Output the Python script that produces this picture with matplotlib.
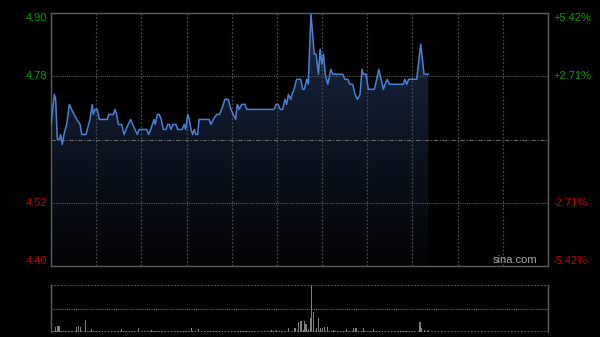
import numpy as np
import matplotlib.pyplot as plt
from matplotlib.colors import LinearSegmentedColormap

# minutes from 9:30 (lunch removed), HK session = 330 min
t = [0, 2.2, 3.1, 4.2, 5.5, 6.4, 7.5, 8.6, 10.4, 12.2, 13.7, 15.3, 17.1, 19.3,
     20.4, 23.2, 24.1, 25.9, 27.4, 28.1, 29.2, 30.7, 32.1, 37.4, 38.3, 41.4,
     42.5, 43.6, 44.7, 46.9, 48.5, 49.8, 51.3, 52.9, 54.2, 55.8, 57.3, 58.6,
     63.5, 64.9, 66.2, 68.4, 69.2, 70.6, 71.9, 73.2, 74.6, 76.4, 77.5, 78.5,
     79.7, 80.8, 83.0, 84.1, 87.0, 88.5, 89.4, 90.8, 91.8, 93.0, 94.1, 95.1,
     96.3, 97.4, 98.3, 105.1, 106.2, 107.8, 110.0, 111.8, 113.3, 115.5, 117.7,
     119.5, 121.0, 122.6, 123.7, 125.0, 126.6, 128.8, 130.0, 148.1, 149.4,
     150.9, 152.1, 153.8, 155.4, 156.5, 157.6, 159.2, 160.0, 161.4, 163.1,
     165.8, 167.1, 168.2, 169.8, 170.8, 172.6, 174.8, 176.0, 177.6, 178.7,
     179.8, 180.9, 182.1, 183.8, 185.8, 187.1, 193.7, 195.2, 197.0, 198.5,
     200.3, 201.9, 203.4, 205.2, 206.5, 207.4, 209.2, 210.7, 214.7, 216.3,
     217.6, 219.2, 220.7, 221.8, 223.3, 224.6, 233.9, 234.9, 236.2, 237.5,
     242.8, 245.5, 247.7, 250.5]
price = [4.68, 4.74, 4.73, 4.65, 4.65, 4.66, 4.64, 4.66, 4.68, 4.72, 4.71, 4.70, 4.69, 4.68,
         4.66, 4.66, 4.67, 4.69, 4.72, 4.70, 4.71, 4.71, 4.69, 4.69, 4.70, 4.70,
         4.71, 4.70, 4.68, 4.68, 4.66, 4.67, 4.68, 4.69, 4.68, 4.67, 4.66, 4.67,
         4.67, 4.66, 4.67, 4.69, 4.68, 4.70, 4.70, 4.69, 4.67, 4.67, 4.68, 4.68,
         4.67, 4.68, 4.68, 4.67, 4.67, 4.68, 4.67, 4.70, 4.69, 4.67, 4.66, 4.67,
         4.66, 4.66, 4.69, 4.69, 4.68, 4.69, 4.70, 4.70, 4.71, 4.73, 4.73,
         4.71, 4.70, 4.69, 4.72, 4.71, 4.72, 4.72, 4.71, 4.71, 4.72,
         4.72, 4.71, 4.71, 4.73, 4.72, 4.74, 4.73, 4.74, 4.75, 4.77,
         4.77, 4.75, 4.75, 4.77, 4.76, 4.90, 4.82, 4.82, 4.78, 4.83,
         4.80, 4.82, 4.78, 4.76, 4.79, 4.78, 4.78, 4.77, 4.77, 4.76,
         4.76, 4.74, 4.73, 4.74, 4.79, 4.78, 4.78, 4.75, 4.75, 4.77,
         4.79, 4.77, 4.75, 4.76, 4.77, 4.76, 4.76, 4.77, 4.76, 4.77,
         4.77, 4.84, 4.78, 4.78]

prev_close = 4.65
pct_levels = [5.42, 2.71, -2.71, -5.42]

# volume: small background bars every 2 min, then the bigger ones
vol_base = [14, 10, 12, 8, 10, 12, 10, 8, 12, 10, 14, 10, 8, 10, 12, 10, 8, 10, 10, 12,
            8, 10, 12, 8, 10, 10, 12, 8, 10, 8, 12, 10, 10, 8, 12, 10, 8, 10, 12, 10,
            8, 10, 10, 12, 8, 10, 8, 12, 10, 10, 8, 12, 10, 8, 10, 12, 10, 8, 10, 12,
            8, 10, 10, 12, 8, 10, 8, 12, 10, 10, 8, 12, 10, 8, 10, 15, 10, 8, 12, 10,
            14, 10, 12, 8, 16, 10, 12, 15, 10, 12, 8, 10, 12, 10, 8, 12, 10, 14, 10, 8,
            12, 10, 8, 10, 12, 10, 8, 10, 12, 8, 10, 12, 10, 8, 10, 12, 10, 8, 12, 10,
            8, 10, 14, 10, 12, 10]
vol_t = [0.5, 3.1, 4.2, 5.3, 17.1, 18.1, 19.3, 23, 27, 47, 58, 67, 93.4, 97.8,
         146.5, 157.6, 162, 164.2, 166, 168.2, 169.3, 170.8, 172, 173.1, 174.2,
         176, 177.5, 179.1, 180.4, 181.9, 183.5, 187.4, 196.3, 200.7, 202.5,
         207.4, 214, 245, 246.1, 248.3, 250.5]
vol_v = [43, 50, 60, 60, 50, 60, 50, 120, 30, 27, 43, 20, 43, 25,
         20, 43, 37, 93, 103, 110, 77, 27, 137, 460, 193,
         43, 137, 43, 43, 53, 53, 20, 25, 37, 37,
         43, 25, 93, 43, 15, 15]

rng = prev_close * pct_levels[0] / 100
ymin, ymax = prev_close - rng, prev_close + rng
green = '#079a07'
red = '#c40000'
grid = '#4a4a4a'

fig = plt.figure(figsize=(6, 3.37), dpi=100, facecolor='black')
ax = fig.add_axes([51/600, 71/337, 497/600, 253/337], facecolor='black')
axv = fig.add_axes([51/600, 5/337, 497/600, 47/337], facecolor='black')

ax.set_xlim(0, 330)
ax.set_ylim(ymin, ymax)

# gradient fill under the line
cmap = LinearSegmentedColormap.from_list('fade', ['#030405', '#0d1524', '#1b2a45'])
poly = ax.fill_between(t, price, ymin, color='none', lw=0)
grad = np.linspace(0, 1, 256).reshape(-1, 1)
im = ax.imshow(grad, extent=[0, 330, ymin, ymax], aspect='auto', cmap=cmap,
               origin='lower', zorder=1)
im.set_clip_path(poly.get_paths()[0], transform=ax.transData)

for x in range(30, 330, 30):
    ax.axvline(x, color=grid, lw=0.9, ls=(0, (1.5, 1.5)), zorder=2)
for p in pct_levels[1:3]:
    ax.axhline(prev_close * (1 + p / 100), color='#5a5a5a', lw=0.8, ls=(0, (1, 1)), zorder=2)
ax.axhline(prev_close, color='#666666', lw=0.8, ls=(0, (4, 1.5, 1, 1.5)), zorder=2)

ax.plot(t, price, color='#4a80d4', lw=1.1, zorder=3)

for s in ax.spines.values():
    s.set_color('#5c5c5c')
    s.set_linewidth(1)
ax.set_xticks([])
ax.set_yticks([])

# price / percent labels
for p in pct_levels:
    y = prev_close * (1 + p / 100)
    c = green if p > 0 else red
    va = 'center'
    if p == pct_levels[0]:
        va = 'top'
    elif p == pct_levels[-1]:
        va = 'bottom'
    ax.text(-2.6, y, f'{y:.2f}', color=c, fontsize=8, family='Liberation Sans',
            ha='right', va=va, clip_on=False)
    ax.text(333.3, y, f'{p:+.2f}%', color=c, fontsize=8, family='Liberation Sans',
            ha='left', va=va, clip_on=False)

ax.text(0.978, 0.005, 'sina.com', transform=ax.transAxes, color='#a8a8a8',
        fontsize=8, family='Liberation Sans', ha='right', va='bottom')

# volume panel
axv.set_xlim(0, 330)
axv.set_ylim(0, max(vol_v))
axv.bar(np.arange(len(vol_base)) * 2, vol_base, width=0.7, color='#808080', lw=0)
axv.bar(vol_t, vol_v, width=0.7, color='#808080', lw=0)
axv.axhline(max(vol_v) / 2, color='#6a6a6a', lw=0.8, ls=(0, (1, 1)))
axv.axhline(max(vol_v), color='#6a6a6a', lw=1.2, ls=(0, (1, 1)))
axv.axhline(0, color='#6a6a6a', lw=1.2, ls=(0, (1, 1)))
axv.spines['top'].set_visible(False)
axv.spines['bottom'].set_visible(False)
for s in ['left', 'right']:
    axv.spines[s].set_color('#5c5c5c')
    axv.spines[s].set_linewidth(1)
axv.set_xticks([])
axv.set_yticks([])

fig.savefig('out.png', dpi=100, facecolor='black')
